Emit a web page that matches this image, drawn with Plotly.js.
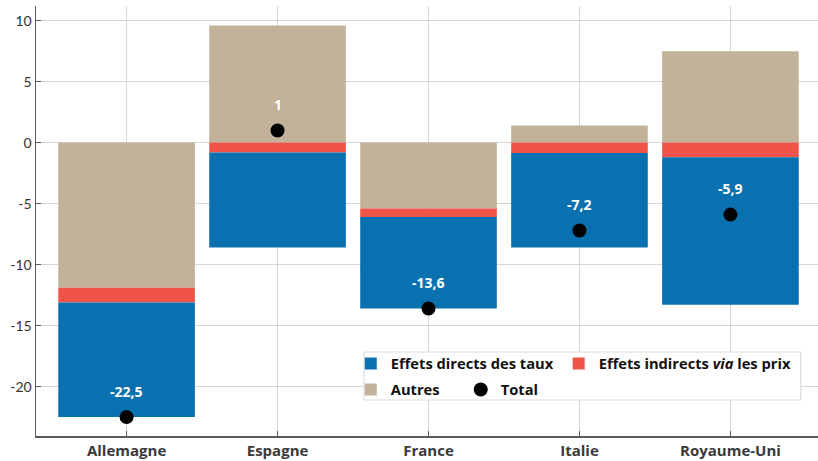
<!DOCTYPE html>
<html>
<head>
<meta charset="utf-8">
<script src="https://cdn.plot.ly/plotly-3.0.1.min.js"></script>
<style>html,body{margin:0;padding:0;background:#fff;}#chart{width:818px;height:461px;}</style>
</head>
<body>
<div id="chart"></div>
<script>
// ---- data ----
const categories = ['Allemagne', 'Espagne', 'France', 'Italie', 'Royaume-Uni'];
const directs = [-9.4, -7.8, -7.5, -7.75, -12.1];
const indirects = [-1.2, -0.8, -0.7, -0.85, -1.2];
const autres = [-11.9, 9.6, -5.4, 1.4, 7.5];
const totals = [-22.5, 1.0, -13.6, -7.2, -5.9];
const totalLabels = ['-22,5', '1', '-13,6', '-7,2', '-5,9'];
const yTickVals = [-20, -15, -10, -5, 0, 5, 10];
const yTickText = ['-20', '-15', '-10', '-5', '0', '5', '10'];

const FONT = 'Lato, "Open Sans", sans-serif';
const BFONT = '"Open Sans", Lato, sans-serif';

const traces = [
  {type: 'bar', name: 'Autres', x: categories, y: autres, marker: {color: '#c2b299'},
   legend: 'legend2', legendrank: 3, width: 0.905, hoverinfo: 'skip'},
  {type: 'bar', name: 'Effets indirects <i>via</i> les prix', x: categories, y: indirects,
   marker: {color: '#f05448'}, legend: 'legend', legendrank: 2, width: 0.905, hoverinfo: 'skip'},
  {type: 'bar', name: 'Effets directs des taux', x: categories, y: directs,
   marker: {color: '#0a71b1'}, legend: 'legend', legendrank: 1, width: 0.905, hoverinfo: 'skip'},
  {type: 'scatter', mode: 'markers', name: 'Total', x: categories, y: totals,
   marker: {color: '#000', size: 14}, legend: 'legend2', legendrank: 4, hoverinfo: 'skip'}
];

const annotations = categories.map((c, i) => ({
  x: c, y: totals[i], text: '<b>' + totalLabels[i] + '</b>', showarrow: false,
  yshift: 26, font: {family: BFONT, size: 14, color: '#ffffff'}
}));

const layout = {
  width: 818, height: 461,
  margin: {l: 36, r: 0, t: 6, b: 25, autoexpand: false},
  paper_bgcolor: '#fff', plot_bgcolor: '#fff',
  barmode: 'relative',
  font: {family: FONT, color: '#333'},
  xaxis: {
    type: 'category', range: [-0.6, 4.58],
    showgrid: true, gridcolor: '#d6d6d6', gridwidth: 1.5,
    showline: true, linecolor: '#5a5a5a', linewidth: 1.5,
    ticks: 'inside', ticklen: 5, tickcolor: '#5a5a5a', tickwidth: 1.5,
    tickfont: {family: BFONT, size: 15, color: '#3a3a3a', weight: 'bold'},
    fixedrange: true
  },
  yaxis: {
    range: [-24.05, 11.2],
    tickvals: yTickVals, ticktext: yTickText,
    showgrid: true, gridcolor: '#d6d6d6', gridwidth: 1.5, zeroline: false,
    showline: true, linecolor: '#5a5a5a', linewidth: 1.5,
    ticks: 'inside', ticklen: 5, tickcolor: '#5a5a5a', tickwidth: 1.5,
    tickfont: {family: FONT, size: 14, color: '#333'},
    fixedrange: true
  },
  legend: {
    orientation: 'h', x: 0.4025, xanchor: 'left', y: 0.1674, yanchor: 'middle',
    bgcolor: 'rgba(0,0,0,0)', borderwidth: 0,
    font: {family: BFONT, size: 14.7, color: '#111', weight: 'bold'}
  },
  legend2: {
    orientation: 'h', x: 0.4025, xanchor: 'left', y: 0.107, yanchor: 'middle',
    bgcolor: 'rgba(0,0,0,0)', borderwidth: 0, entrywidth: 65,
    font: {family: BFONT, size: 14.7, color: '#111', weight: 'bold'}
  },
  shapes: [{
    type: 'rect', xref: 'paper', yref: 'paper',
    x0: 0.4194, x1: 0.978, y0: 0.0837, y1: 0.1953,
    fillcolor: '#ffffff', line: {color: '#dcdcdc', width: 1.2}, layer: 'above'
  }],
  annotations: annotations,
  showlegend: true
};

Plotly.newPlot('chart', traces, layout, {displayModeBar: false, staticPlot: true});
</script>
</body>
</html>
